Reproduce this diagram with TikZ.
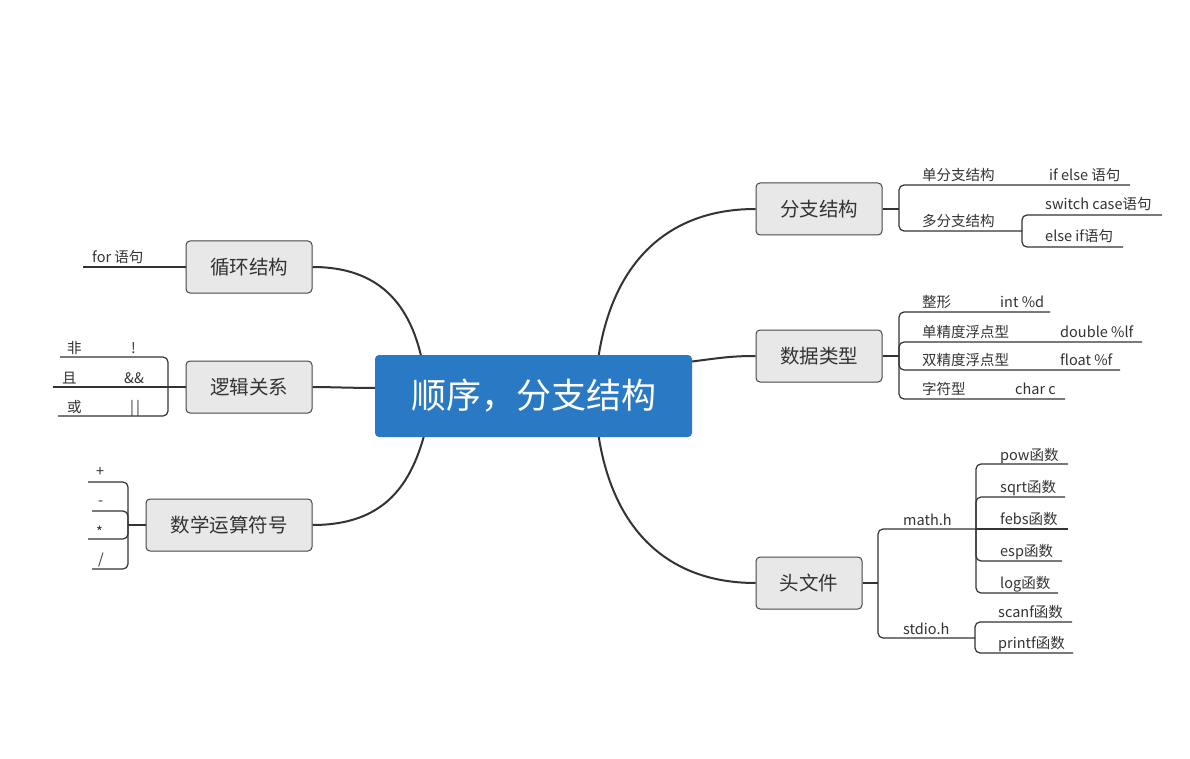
\documentclass[tikz,border=0pt]{standalone}
\usepackage{fontspec}
\setmainfont{Noto Sans CJK SC}
\definecolor{cblue}{RGB}{41,121,196}
\definecolor{boxfill}{RGB}{232,232,232}
\definecolor{boxline}{RGB}{70,70,70}
\definecolor{lc}{RGB}{51,51,51}
\definecolor{txt}{RGB}{51,51,51}
\begin{document}
\begin{tikzpicture}[x=1pt,y=-1pt,
  topic/.style={draw=boxline, fill=boxfill, rounded corners=4pt, line width=1pt,
    font=\fontsize{19.5}{19.5}\selectfont, text=txt, minimum height=52pt, inner sep=0pt},
  central/.style={fill=cblue, rounded corners=4pt, text=white,
    font=\fontsize{35}{35}\selectfont, minimum width=317pt, minimum height=82pt, inner sep=0pt},
  mainline/.style={draw=lc, line width=2pt},
  br/.style={draw=lc, line width=1.2pt, rounded corners=5pt},
  lbl/.style={anchor=base west, inner sep=0pt, text=txt, font=\fontsize{14.5}{14.5}\selectfont}]
\useasboundingbox (0,0) rectangle (1190,759);
\fill[white] (0,0) rectangle (1190,759);

% central anchors for curves
\coordinate (cTL) at (422,360);
\coordinate (cL) at (380,388);
\coordinate (cBL) at (425,432);
\coordinate (cTR) at (598,360);
\coordinate (cR) at (688,362);
\coordinate (cBR) at (598,432);

% topics
\node[topic, minimum width=126pt] (fz) at (819,209) {分支结构};
\node[topic, minimum width=126pt] (sj) at (819,356) {数据类型};
\node[topic, minimum width=106pt] (tw) at (809,583) {头文件};
\node[topic, minimum width=126pt] (xh) at (249,267) {循环结构};
\node[topic, minimum width=126pt] (lj) at (249,387) {逻辑关系};
\node[topic, minimum width=166pt] (sx) at (229,525) {数学运算符号};

% main curves
\draw[mainline] (cTR) .. controls (612,262) and (668,209) .. (fz.west);
\draw[mainline] (cR) .. controls (720,358) and (730,356) .. (sj.west);
\draw[mainline] (cBR) .. controls (612,530) and (668,583) .. (tw.west);
\draw[mainline] (cTL) .. controls (410,305) and (380,267) .. (xh.east);
\draw[mainline] (cL) .. controls (350,388) and (330,387) .. (lj.east);
\draw[mainline] (cBL) .. controls (410,490) and (380,525) .. (sx.east);

\node[central] (c) at (533.5,396) {顺序，分支结构};

% ---- 分支结构
\coordinate (j1) at (899,209);
\coordinate (e11) at (1130,185);
\coordinate (j2) at (1022,231);
\coordinate (e21) at (1162,215);
\coordinate (e22) at (1123,247);
\draw[br] (fz.east) -- (j1);
\draw[br] (j1) |- (e11);
\draw[br] (j1) |- (j2);
\draw[br] (j2) |- (e21);
\draw[br] (j2) |- (e22);
\node[lbl] (t11) at (922,181) {单分支结构};
\node[lbl] (t12) at (1049,181) {if else 语句};
\node[lbl] (t13) at (922,226) {多分支结构};
\node[lbl] (t14) at (1045,210) {switch case语句};
\node[lbl] (t15) at (1045,242) {else if语句};

% ---- 数据类型
\coordinate (j3) at (899,356);
\coordinate (e31) at (1050,312);
\coordinate (e32) at (1142,342);
\coordinate (e33) at (1120,370);
\coordinate (e34) at (1065,399);
\draw[br] (sj.east) -- (j3);
\draw[br] (j3) |- (e31);
\draw[br] (j3) |- (e32);
\draw[br] (j3) |- (e33);
\draw[br] (j3) |- (e34);
\node[lbl] (t31) at (922,307) {整形};
\node[lbl] (t32) at (1000,307) {int \%d};
\node[lbl] (t33) at (922,337) {单精度浮点型};
\node[lbl] (t34) at (1060,337) {double \%lf};
\node[lbl] (t35) at (922,365) {双精度浮点型};
\node[lbl] (t36) at (1060,365) {float \%f};
\node[lbl] (t37) at (922,394) {字符型};
\node[lbl] (t38) at (1015,394) {char c};

% ---- 头文件
\coordinate (j4) at (878,583);
\coordinate (j5) at (976,529);
\coordinate (j6) at (975,638);
\coordinate (e51) at (1068,464);
\coordinate (e52) at (1065,497);
\coordinate (e53) at (1068,529);
\coordinate (e54) at (1062,561);
\coordinate (e55) at (1058,593);
\coordinate (e61) at (1072,622);
\coordinate (e62) at (1073,653);
\draw[br] (tw.east) -- (j4);
\draw[br] (j4) |- (j5);
\draw[br] (j4) |- (j6);
\draw[br] (j5) |- (e51);
\draw[br] (j5) |- (e52);
\draw[br] (j5) -- (e53);
\draw[br] (j5) |- (e54);
\draw[br] (j5) |- (e55);
\draw[br] (j6) |- (e61);
\draw[br] (j6) |- (e62);
\node[lbl] (t41) at (903,525) {math.h};
\node[lbl] (t42) at (903,634) {stdio.h};
\node[lbl] (t51) at (1000,460) {pow函数};
\node[lbl] (t52) at (1000,492) {sqrt函数};
\node[lbl] (t53) at (1000,524) {febs函数};
\node[lbl] (t54) at (1000,556) {esp函数};
\node[lbl] (t55) at (1000,588) {log函数};
\node[lbl] (t61) at (998,617) {scanf函数};
\node[lbl] (t62) at (998,648) {printf函数};

% ---- 循环结构
\coordinate (e71) at (83,267);
\draw[br] (xh.west) -- (e71);
\node[lbl] (t71) at (92,262) {for 语句};

% ---- 逻辑关系
\coordinate (j8) at (168,387);
\coordinate (e81) at (60,357);
\coordinate (e82) at (53,387);
\coordinate (e83) at (58,416);
\draw[br] (lj.west) -- (j8);
\draw[br] (j8) |- (e81);
\draw[br] (j8) -- (e82);
\draw[br] (j8) |- (e83);
\node[lbl] (t81) at (67,353) {非};
\node[lbl] (t82) at (131,353) {!};
\node[lbl] (t83) at (62,383) {且};
\node[lbl] (t84) at (124,383) {\&\&};
\node[lbl] (t85) at (67,412) {或};
\node[lbl] (t86) at (130,412) {|\kern2pt|};

% ---- 数学运算符号
\coordinate (j9) at (128,525);
\coordinate (e91) at (88,482);
\coordinate (e92) at (92,511);
\coordinate (e93) at (88,539);
\coordinate (e94) at (92,569);
\draw[br] (sx.west) -- (j9);
\draw[br] (j9) |- (e91);
\draw[br] (j9) |- (e92);
\draw[br] (j9) |- (e93);
\draw[br] (j9) |- (e94);
\node[lbl] (t91) at (96,476) {+};
\node[lbl] (t92) at (98,505) {-};
\node[lbl] (t93) at (96,537) {*};
\node[lbl] (t94) at (98,564) {/};
\end{tikzpicture}
\end{document}
